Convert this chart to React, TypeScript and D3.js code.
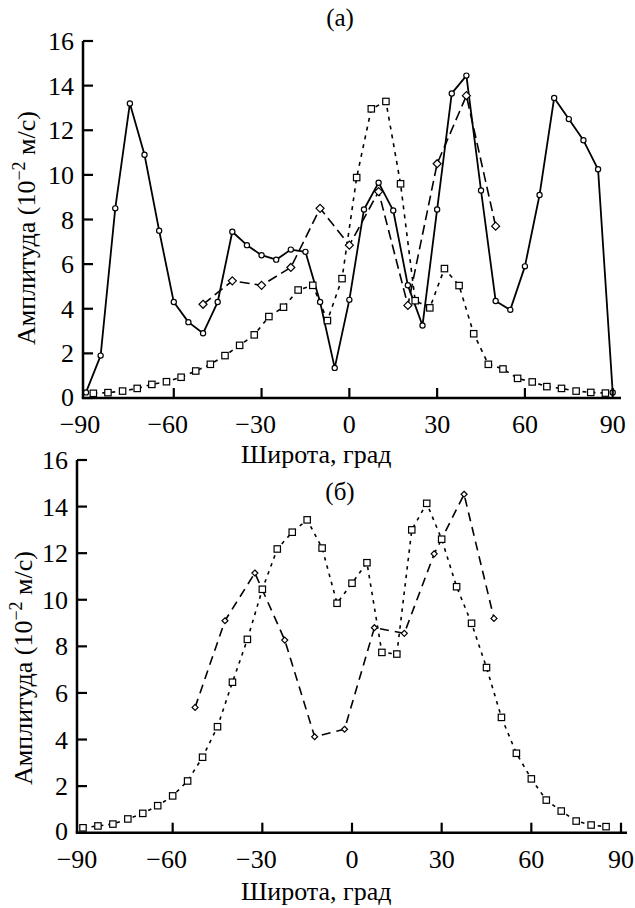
import React from 'react';
import * as d3 from 'd3';

const FONT = '"Liberation Serif", "DejaVu Serif", serif';

// ---- Panel (a) ----
const latA_solid = [-90, -85, -80, -75, -70, -65, -60, -55, -50, -45, -40, -35, -30, -25, -20, -15, -10, -5, 0, 5, 10, 15, 20, 25, 30, 35, 40, 45, 50, 55, 60, 65, 70, 75, 80, 85, 90];
const ampA_solid = [0.25, 1.9, 8.5, 13.2, 10.9, 7.5, 4.3, 3.4, 2.9, 4.3, 7.45, 6.85, 6.4, 6.2, 6.65, 6.55, 4.3, 1.35, 4.4, 8.45, 9.65, 8.4, 5.05, 3.25, 8.45, 13.65, 14.45, 9.3, 4.35, 3.95, 5.9, 9.1, 13.45, 12.5, 11.55, 10.25, 0.25];

const latA_diamond = [-50, -40, -30, -20, -10, 0, 10, 20, 30, 40, 50];
const ampA_diamond = [4.2, 5.25, 5.05, 5.85, 8.5, 6.85, 9.25, 4.15, 10.5, 13.55, 7.7];

const latA_square = [-87.5, -82.5, -77.5, -72.5, -67.5, -62.5, -57.5, -52.5, -47.5, -42.5, -37.5, -32.5, -27.5, -22.5, -17.5, -12.5, -7.5, -2.5, 2.5, 7.5, 12.5, 17.5, 22.5, 27.5, 32.5, 37.5, 42.5, 47.5, 52.5, 57.5, 62.5, 67.5, 72.5, 77.5, 82.5, 87.5];
const ampA_square = [0.21, 0.24, 0.31, 0.43, 0.61, 0.73, 0.93, 1.21, 1.51, 1.9, 2.36, 2.83, 3.65, 4.07, 4.84, 5.05, 3.47, 5.35, 9.88, 12.96, 13.29, 9.6, 4.36, 4.04, 5.8, 5.04, 2.88, 1.51, 1.3, 0.88, 0.72, 0.51, 0.43, 0.31, 0.25, 0.22];

// ---- Panel (б) ----
const latB_square = [-90, -85, -80, -75, -70, -65, -60, -55, -50, -45, -40, -35, -30, -25, -20, -15, -10, -5, 0, 5, 10, 15, 20, 25, 30, 35, 40, 45, 50, 55, 60, 65, 70, 75, 80, 85];
const ampB_square = [0.21, 0.29, 0.37, 0.59, 0.83, 1.16, 1.58, 2.22, 3.24, 4.55, 6.46, 8.3, 10.45, 12.18, 12.9, 13.43, 12.22, 9.85, 10.71, 11.59, 7.74, 7.67, 13.0, 14.14, 12.6, 10.56, 8.99, 7.09, 4.95, 3.41, 2.31, 1.4, 0.93, 0.5, 0.33, 0.26];

const latB_diamond = [-52.5, -42.5, -32.5, -22.5, -12.5, -2.5, 7.5, 17.5, 27.5, 37.5, 47.5];
const ampB_diamond = [5.38, 9.1, 11.15, 8.27, 4.12, 4.44, 8.8, 8.56, 11.97, 14.53, 9.2];

const xTicks = [-90, -60, -30, 0, 30, 60, 90];
const yTicks = [0, 2, 4, 6, 8, 10, 12, 14, 16];

type Marker = 'circle' | 'diamond' | 'square';
interface Series {
  lat: number[];
  amp: number[];
  marker: Marker;
  size: number;
  dash?: string;
  width: number;
}

interface PanelProps {
  axisX: number;
  xStart: number;
  xEnd: number;
  axisEnd: number;
  top: number;
  bottom: number;
  title: string;
  titleY: number;
  yLabelX: number;
  yLabelY: number;
  xLabelY: number;
  tickLabelDy: number;
  series: Series[];
}

const fmt = (t: number) => (t < 0 ? '\u2212' + Math.abs(t) : String(t));
const textStyle = { fontFamily: FONT } as const;

function markerNode(m: Marker, cx: number, cy: number, s: number, key: string) {
  const common = { fill: '#fff', stroke: '#000', strokeWidth: 1.2 } as const;
  if (m === 'circle') return <circle key={key} cx={cx} cy={cy} r={s} {...common} />;
  if (m === 'square') return <rect key={key} x={cx - s} y={cy - s} width={2 * s} height={2 * s} {...common} />;
  return (
    <path key={key} d={`M${cx},${cy - s}L${cx + s},${cy}L${cx},${cy + s}L${cx - s},${cy}Z`} {...common} />
  );
}

function Panel(p: PanelProps) {
  const x = d3.scaleLinear().domain([-90, 90]).range([p.xStart, p.xEnd]);
  const y = d3.scaleLinear().domain([0, 16]).range([p.bottom, p.top]);
  const line = d3
    .line<[number, number]>()
    .x((d) => x(d[0]))
    .y((d) => y(d[1]));

  return (
    <g>
      <text x={340} y={p.titleY} fontSize={25} textAnchor="middle" style={textStyle}>
        {p.title}
      </text>

      {p.series.map((s, i) => (
        <path
          key={'l' + i}
          d={line(s.lat.map((l, j) => [l, s.amp[j]] as [number, number])) || ''}
          fill="none"
          stroke="#000"
          strokeWidth={s.width}
          strokeDasharray={s.dash}
          strokeLinejoin="round"
        />
      ))}
      {p.series.map((s, i) =>
        s.lat.map((l, j) => markerNode(s.marker, x(l), y(s.amp[j]), s.size, `m${i}-${j}`))
      )}

      <line x1={p.axisX} x2={p.axisX} y1={p.top} y2={p.bottom} stroke="#000" strokeWidth={2.5} />
      <line x1={p.axisX - 1.25} x2={p.axisEnd} y1={p.bottom} y2={p.bottom} stroke="#000" strokeWidth={2.5} />
      {yTicks.map((t) => (
        <g key={'yt' + t}>
          <line x1={p.axisX} x2={p.axisX + 10} y1={y(t)} y2={y(t)} stroke="#000" strokeWidth={2.2} />
          <text x={p.axisX - 9} y={y(t) + (t === 0 ? 7.5 : 9)} fontSize={26} textAnchor="end" style={textStyle}>
            {fmt(t)}
          </text>
        </g>
      ))}
      {xTicks.map((t) => (
        <g key={'xt' + t}>
          {t > -90 && (
            <line x1={x(t)} x2={x(t)} y1={p.bottom} y2={p.bottom - 10} stroke="#000" strokeWidth={2.2} />
          )}
          <text x={x(t) - (t < 0 ? 6 : 0)} y={p.bottom + p.tickLabelDy} fontSize={26} textAnchor="middle" style={textStyle}>
            {fmt(t)}
          </text>
        </g>
      ))}

      <text x={241} y={p.xLabelY} fontSize={26} style={textStyle}>
        Широта, град
      </text>
      <text
        transform={`translate(${p.yLabelX},${p.yLabelY}) rotate(-90)`}
        fontSize={26}
        textAnchor="middle"
        style={textStyle}
      >
        Амплитуда (10
        <tspan fontSize={18} dy={-10}>
          {'\u22122'}
        </tspan>
        <tspan dy={10}> м/с)</tspan>
      </text>
    </g>
  );
}

export default function App() {
  const seriesA: Series[] = [
    { lat: latA_solid, amp: ampA_solid, marker: 'circle', size: 2.6, width: 1.8 },
    { lat: latA_diamond, amp: ampA_diamond, marker: 'diamond', size: 4, dash: '10,5', width: 1.6 },
    { lat: latA_square, amp: ampA_square, marker: 'square', size: 3.2, dash: '4,5', width: 1.6 },
  ];
  const seriesB: Series[] = [
    { lat: latB_diamond, amp: ampB_diamond, marker: 'diamond', size: 3, dash: '9,6', width: 1.6 },
    { lat: latB_square, amp: ampB_square, marker: 'square', size: 3.2, dash: '3.5,5', width: 1.6 },
  ];

  return (
    <svg
      width={635}
      height={908}
      style={{ position: 'absolute', left: 0, top: 0, background: '#fff' }}
      xmlns="http://www.w3.org/2000/svg"
    >
      <rect width={635} height={908} fill="#fff" />
      <Panel
        axisX={83}
        xStart={86}
        xEnd={612.7}
        axisEnd={621}
        top={41}
        bottom={398}
        title="(a)"
        titleY={26}
        yLabelX={35}
        yLabelY={228}
        xLabelY={463}
        tickLabelDy={34.5}
        series={seriesA}
      />
      <Panel
        axisX={77}
        xStart={83}
        xEnd={621}
        axisEnd={627}
        top={460}
        bottom={832.7}
        title="(б)"
        titleY={500}
        yLabelX={32}
        yLabelY={668}
        xLabelY={900}
        tickLabelDy={35}
        series={seriesB}
      />
    </svg>
  );
}
